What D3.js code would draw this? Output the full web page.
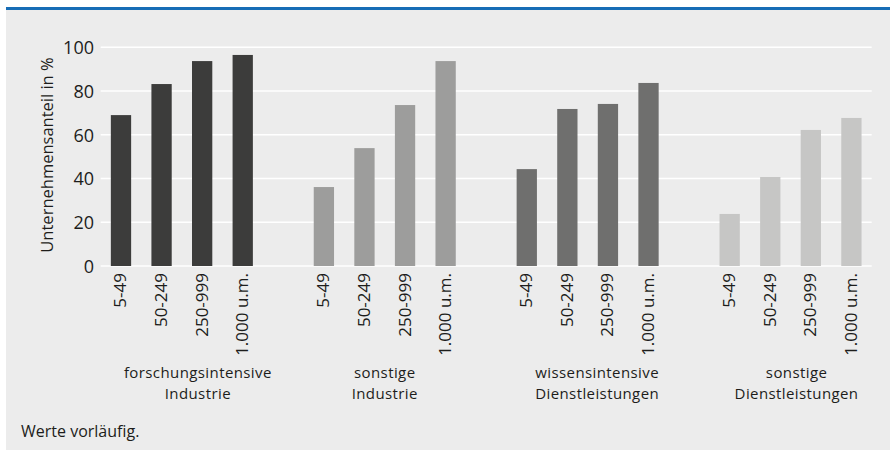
<!DOCTYPE html>
<html>
<head>
<meta charset="utf-8">
<script src="https://cdn.jsdelivr.net/npm/d3@7"></script>
<style>
  html, body { margin: 0; padding: 0; background: #ffffff; }
  svg { display: block; }
  text { font-family: "Open Sans", "Noto Sans", sans-serif; fill: #1d1d1b; }
</style>
</head>
<body>
<svg id="chart" width="890" height="450"></svg>
<script>
// ---- data ----
const sizeClasses = ["5-49", "50-249", "250-999", "1.000 u.m."];
const sectorLabels = [
  ["forschungsintensive", "Industrie"],
  ["sonstige", "Industrie"],
  ["wissensintensive", "Dienstleistungen"],
  ["sonstige", "Dienstleistungen"]
];
const forschungsintensiveIndustrie = [69.0, 83.2, 93.7, 96.5];
const sonstigeIndustrie = [36.1, 53.9, 73.6, 93.7];
const wissensintensiveDienstleistungen = [44.3, 71.8, 74.1, 83.7];
const sonstigeDienstleistungen = [23.8, 40.7, 62.2, 67.7];
const yTicks = [0, 20, 40, 60, 80, 100];
const yTitle = "Unternehmensanteil in %";
const note = "Werte vorläufig.";

// ---- layout / style ----
const seriesValues = [forschungsintensiveIndustrie, sonstigeIndustrie, wissensintensiveDienstleistungen, sonstigeDienstleistungen];
const sectorColors = ["#3c3c3b", "#9d9d9c", "#6f6f6e", "#c6c6c5"];
const labelNudge = [16, 0, 9.5, 6];

const svg = d3.select("#chart");
const W = 890, H = 450;

// background and top rule
svg.append("rect").attr("x", 6).attr("y", 7).attr("width", W - 6).attr("height", H - 7).attr("fill", "#ececec");
svg.append("rect").attr("x", 6).attr("y", 7).attr("width", W - 6).attr("height", 3).attr("fill", "#176db6");

// build slot keys (4 bars per sector, one empty slot between sectors)
const slots = [];
sectorLabels.forEach((s, g) => {
  sizeClasses.forEach((c, i) => slots.push(`${g}|${i}`));
  if (g < sectorLabels.length - 1) slots.push(`gap${g}`);
});

const x = d3.scaleBand().domain(slots).range([100.7, 871.7]).paddingInner(0.5).paddingOuter(0.25);
const y = d3.scaleLinear().domain([0, 100]).range([266, 47.3]);

// gridlines
svg.append("g").selectAll("line").data(yTicks).join("line")
  .attr("x1", 100.7).attr("x2", 871.7)
  .attr("y1", d => y(d)).attr("y2", d => y(d))
  .attr("stroke", "#ffffff").attr("stroke-width", 1.5);

// y axis labels
const yAxis = d3.axisLeft(y).tickValues(yTicks).tickSize(0).tickPadding(0).tickFormat(d3.format("d"));
const yg = svg.append("g").attr("transform", "translate(94,0)").call(yAxis);
yg.select(".domain").remove();
yg.selectAll("text").attr("font-size", 18).attr("fill", "#1d1d1b").attr("font-family", "Open Sans").attr("dy", "0.35em");

// y title
svg.append("text")
  .attr("transform", "translate(53,155) rotate(-90)")
  .attr("text-anchor", "middle")
  .attr("font-size", 16.5)
  .text(yTitle);

// bars
const barData = [];
seriesValues.forEach((vals, g) => vals.forEach((v, i) => barData.push({ g, i, v })));
svg.append("g").selectAll("rect").data(barData).join("rect")
  .attr("x", d => x(`${d.g}|${d.i}`))
  .attr("width", x.bandwidth())
  .attr("y", d => y(d.v))
  .attr("height", d => y(0) - y(d.v))
  .attr("fill", d => sectorColors[d.g]);

// x tick labels (rotated)
svg.append("g").selectAll("text").data(barData).join("text")
  .attr("transform", d => `translate(${x(`${d.g}|${d.i}`) + x.bandwidth() / 2 + 5.5},273) rotate(-90)`)
  .attr("text-anchor", "end")
  .attr("font-size", 17)
  .text(d => sizeClasses[d.i]);

// sector labels (one text element per line)
const lineData = [];
sectorLabels.forEach((lines, g) => lines.forEach((ln, k) => lineData.push({ g, k, ln })));
svg.append("g").selectAll("text").data(lineData).join("text")
  .attr("x", d => (x(`${d.g}|0`) + x(`${d.g}|3`) + x.bandwidth()) / 2 + labelNudge[d.g])
  .attr("y", d => 378 + d.k * 21)
  .attr("text-anchor", "middle")
  .attr("font-size", 15)
  .attr("letter-spacing", 0.4)
  .text(d => d.ln);

// note
svg.append("text").attr("x", 21).attr("y", 437).attr("font-size", 16).text(note);
</script>
</body>
</html>
